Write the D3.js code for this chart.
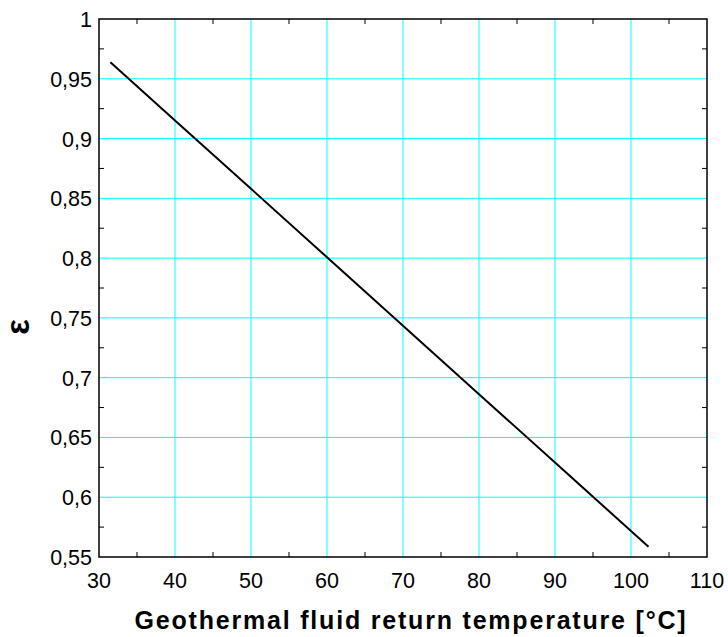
<!DOCTYPE html>
<html>
<head>
<meta charset="utf-8">
<script src="https://d3js.org/d3.v7.min.js"></script>
<style>
  body { margin: 0; background: #fff; }
  text { font-family: "Liberation Sans", Arial, sans-serif; }
</style>
</head>
<body>
<div id="chart"></div>
<script>
// data
var tempValues = [31.5, 40, 50, 60, 70, 80, 90, 102.3];
var epsValues = [0.9638, 0.9152, 0.8580, 0.8007, 0.7435, 0.6862, 0.6290, 0.5586];
var xTicks = [30, 40, 50, 60, 70, 80, 90, 100, 110];
var yTicks = [0.55, 0.6, 0.65, 0.7, 0.75, 0.8, 0.85, 0.9, 0.95, 1];

var margin = {top: 19, right: 21, bottom: 80, left: 99},
    width = 728 - margin.left - margin.right,
    height = 637 - margin.top - margin.bottom;

var svg = d3.select("#chart")
  .append("svg")
  .attr("width", 728)
  .attr("height", 637)
.append("g")
  .attr("transform", "translate(" + margin.left + "," + margin.top + ")");

var x = d3.scaleLinear().domain([30, 110]).range([0, width]);
var y = d3.scaleLinear().domain([0.55, 1]).range([height, 0]);

var fmt = function(d) { return String(+d.toFixed(2)).replace(".", ","); };

// grid lines
svg.append("g")
  .selectAll("line")
  .data(xTicks.slice(1, -1))
  .enter().append("line")
    .attr("x1", function(d) { return x(d); })
    .attr("x2", function(d) { return x(d); })
    .attr("y1", 0).attr("y2", height)
    .attr("stroke", "#00ffff").attr("stroke-width", 1);

svg.append("g")
  .selectAll("line")
  .data(yTicks.slice(1, -1))
  .enter().append("line")
    .attr("y1", function(d) { return y(d); })
    .attr("y2", function(d) { return y(d); })
    .attr("x1", 0).attr("x2", width)
    .attr("stroke", "#00ffff").attr("stroke-width", 1);

// minor ticks pointing inward on all four sides
var xMinor = d3.range(35, 110, 10);
var yMinor = d3.range(0, 9).map(function(i) { return 0.575 + i * 0.05; });

var ticks = svg.append("g").attr("stroke", "#000").attr("stroke-width", 1);
xMinor.forEach(function(d) {
  ticks.append("line").attr("x1", x(d)).attr("x2", x(d)).attr("y1", height).attr("y2", height - 5);
  ticks.append("line").attr("x1", x(d)).attr("x2", x(d)).attr("y1", 0).attr("y2", 5);
});
yMinor.forEach(function(d) {
  ticks.append("line").attr("y1", y(d)).attr("y2", y(d)).attr("x1", 0).attr("x2", 5);
  ticks.append("line").attr("y1", y(d)).attr("y2", y(d)).attr("x1", width).attr("x2", width - 5);
});

// frame
svg.append("rect")
  .attr("width", width).attr("height", height)
  .attr("fill", "none").attr("stroke", "#000").attr("stroke-width", 1.5);

// tick labels
svg.append("g")
  .selectAll("text")
  .data(xTicks)
  .enter().append("text")
    .attr("x", function(d) { return x(d); })
    .attr("y", height + 31)
    .attr("text-anchor", "middle")
    .style("font-size", "21.5px")
    .text(function(d) { return d; });

svg.append("g")
  .selectAll("text")
  .data(yTicks)
  .enter().append("text")
    .attr("x", -7)
    .attr("y", function(d) { return y(d) + 8; })
    .attr("text-anchor", "end")
    .style("font-size", "21.5px")
    .text(fmt);

// the curve
var line = d3.line()
  .x(function(d, i) { return x(tempValues[i]); })
  .y(function(d) { return y(d); });

svg.append("path")
  .datum(epsValues)
  .attr("d", line)
  .attr("fill", "none")
  .attr("stroke", "#000")
  .attr("stroke-width", 2);

// axis titles
svg.append("text")
  .attr("x", 312)
  .attr("y", height + 72)
  .attr("text-anchor", "middle")
  .style("font-size", "25px")
  .style("font-weight", "bold")
  .style("letter-spacing", "1.8px")
  .text("Geothermal fluid return temperature [°C]");

svg.append("text")
  .attr("transform", "translate(-70," + (height / 2 + 39) + ")rotate(-90)")
  .attr("text-anchor", "middle")
  .style("font-size", "33px")
  .style("font-weight", "bold")
  .text("ε");
</script>
</body>
</html>
